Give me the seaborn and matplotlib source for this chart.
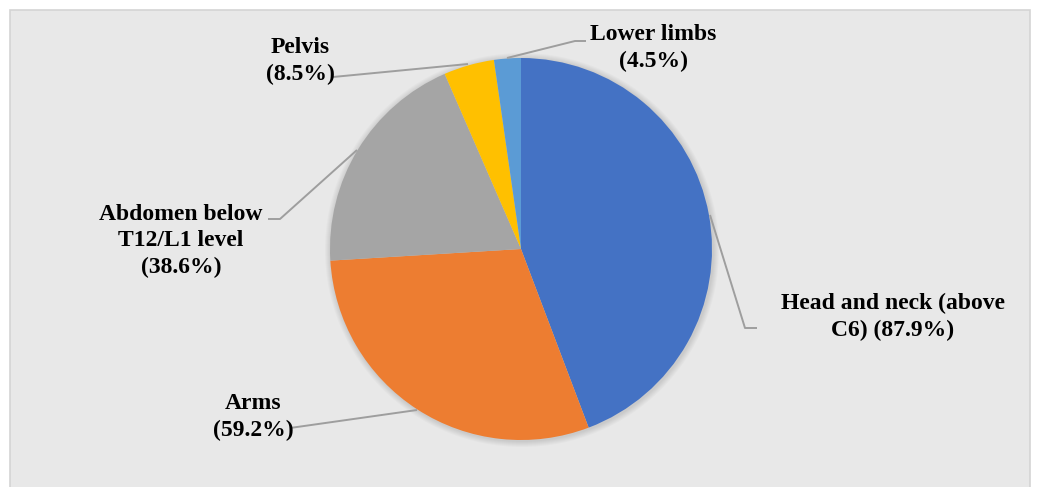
import matplotlib
matplotlib.use("Agg")
import matplotlib.pyplot as plt
from matplotlib.patches import Rectangle, Circle
import seaborn as sns

# ---- data ----
categories = ["Head and neck (above C6)", "Arms", "Abdomen below T12/L1 level", "Pelvis", "Lower limbs"]
values = [87.9, 59.2, 38.6, 8.5, 4.5]
label_texts = ["Head and neck (above\nC6) (87.9%)", "Arms\n(59.2%)",
               "Abdomen below\nT12/L1 level\n(38.6%)", "Pelvis\n(8.5%)", "Lower limbs\n(4.5%)"]
colors = ["#4472C4", "#ED7D31", "#A5A5A5", "#FFC000", "#5B9BD5"]

sns.set_style("white")
plt.rcParams['font.family'] = ['Liberation Serif', 'DejaVu Serif']

W, H = 1037, 487
fig = plt.figure(figsize=(W / 100, H / 100), dpi=100)
fig.patch.set_facecolor("white")
ax = fig.add_axes([0, 0, 1, 1])

def py(y):
    return H - y

# background panel
ax.add_patch(Rectangle((10, py(487) - 2), 1020, 487 - 12 + 4, facecolor="#e8e8e8",
                       edgecolor="#d4d4d4", linewidth=1.2, zorder=0))

cx, cy, r = 521, 249, 191
# soft shadow
for k in range(1, 7):
    ax.add_patch(Circle((cx + 1, py(cy) - 1), r + k, facecolor="black", alpha=0.018,
                        edgecolor="none", zorder=1))

pal = sns.color_palette(colors)
ax.pie(values, colors=pal, startangle=90, counterclock=False,
       center=(cx, py(cy)), radius=r, frame=True,
       wedgeprops=dict(linewidth=0, zorder=2))

# leader lines (pixel coordinates)
leaders = [
    [(710, 215), (745, 328), (757, 328)],
    [(417, 410), (290, 428)],
    [(357, 150), (280, 219), (268, 219)],
    [(468, 64), (333, 77)],
    [(507, 58), (575, 41), (586, 41)],
]
for pts in leaders:
    ax.plot([p[0] for p in pts], [py(p[1]) for p in pts], color="#9e9e9e", lw=1.4,
            zorder=3, solid_capstyle="butt")

label_pos = [(893, 317), (253, 417), (181, 241), (300, 61), (653, 48)]
for txt, (lx, ly) in zip(label_texts, label_pos):
    ax.text(lx, py(ly), txt, ha="center", va="center", fontsize=17, fontweight="bold",
            color="black", linespacing=1.32, zorder=4)

ax.set_xlim(0, W)
ax.set_ylim(0, H)
ax.axis("off")
fig.savefig("out.png", dpi=100, facecolor="white")
